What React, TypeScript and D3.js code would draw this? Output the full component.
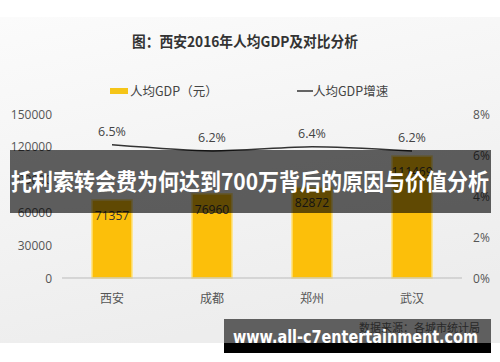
import React from "react";
import * as d3 from "d3";

const cities = ["西安", "成都", "郑州", "武汉"];
const gdpPerCapita = [71357, 76960, 82872, 111469];
const growth = [6.5, 6.2, 6.4, 6.2];
const leftTicks = [0, 30000, 60000, 90000, 120000, 150000];
const rightTicks = [0, 2, 4, 6, 8];

const W = 500;
const H = 362;
const FONT = "'Open Sans', 'Noto Sans CJK SC', sans-serif";
const CJK = "'Noto Sans CJK SC', sans-serif";

export default function App() {
  const x = d3.scaleBand<string>().domain(cities).range([62, 462]).paddingInner(0.6).paddingOuter(0.3);
  const yL = d3.scaleLinear().domain([0, 150000]).range([278, 114]);
  const yR = d3.scaleLinear().domain([0, 8]).range([278, 114]);
  const cx = (c: string) => (x(c) as number) + x.bandwidth() / 2;
  const line = d3
    .line<number>()
    .x((_, i) => cx(cities[i]))
    .y((d) => yR(d))
    .curve(d3.curveCardinal.tension(0.3));

  return (
    <svg width={W} height={H} style={{ position: "absolute", left: 0, top: 0 }} fontFamily={FONT}>
      <defs>
        <linearGradient id="bg" x1="0" y1="0" x2="0.3" y2="1">
          <stop offset="0" stopColor="#fbfbfb" />
          <stop offset="1" stopColor="#ededed" />
        </linearGradient>
      </defs>
      <rect x={0} y={0} width={W} height={H} fill="#ffffff" />
      <rect x={0} y={17} width={W} height={326} fill="url(#bg)" />

      <text x={245} y={47} textAnchor="middle" fontSize={14.5} fontWeight="bold" fill="#333" fontFamily={CJK} textLength={226} lengthAdjust="spacingAndGlyphs">
        图：西安2016年人均GDP及对比分析
      </text>

      {/* legend */}
      <rect x={110} y={88} width={18} height={6} fill="#F5C518" />
      <text x={130} y={95.5} fontSize={12.5} fill="#444" fontFamily={CJK}>人均GDP（元）</text>
      <line x1={297} x2={313} y1={91} y2={91} stroke="#333" strokeWidth={1.5} />
      <text x={313} y={95.5} fontSize={12.5} fill="#444" fontFamily={CJK}>人均GDP增速</text>

      {/* left axis */}
      {leftTicks.map((t) => (
        <text key={t} x={52} y={yL(t) + 4.5} textAnchor="end" fontSize={12} fill="#555">
          {t}
        </text>
      ))}
      {/* right axis */}
      {rightTicks.map((t) => (
        <text key={t} x={473} y={yR(t) + 4.5} fontSize={12} fill="#555">
          {t}%
        </text>
      ))}

      {/* bars */}
      {cities.map((c, i) => (
        <g key={c}>
          <rect
            x={x(c)}
            y={yL(gdpPerCapita[i])}
            width={x.bandwidth()}
            height={278 - yL(gdpPerCapita[i])}
            fill="#FCBF0A"
            stroke="#FFE27A"
            strokeWidth={1.5}
          />
          <text x={cx(c)} y={yL(gdpPerCapita[i]) + 20} textAnchor="middle" fontSize={12} fill="#333">
            {gdpPerCapita[i]}
          </text>
          <text x={cx(c)} y={303} textAnchor="middle" fontSize={12} fill="#555" fontFamily={CJK}>
            {c}
          </text>
        </g>
      ))}

      <line x1={62} x2={462} y1={278} y2={278} stroke="#bbb" strokeWidth={1} />

      {/* growth line */}
      <path d={line(growth) || ""} fill="none" stroke="#333" strokeWidth={1.5} />
      {cities.map((c, i) => (
        <text key={c} x={cx(c)} y={yR(growth[i]) - 9} textAnchor="middle" fontSize={12.5} fill="#444">
          {growth[i]}%
        </text>
      ))}

      <text x={480} y={332} textAnchor="end" fontSize={11} fill="#666" fontFamily={CJK}>
        数据来源：各城市统计局
      </text>

      {/* overlays */}
      <rect x={10} y={150} width={481} height={63} fill="rgba(0,0,0,0.62)" />
      <text x={250} y={190} textAnchor="middle" fontSize={23} fontWeight="bold" fill="#fff" fontFamily={CJK} textLength={478} lengthAdjust="spacingAndGlyphs">
        托利索转会费为何达到700万背后的原因与价值分析
      </text>

      <rect x={224} y={319} width={267} height={24} fill="rgba(0,0,0,0.6)" />
      <rect x={224} y={343} width={267} height={10} fill="#000" />
      <text x={233} y={343} fontSize={17} fontWeight="bold" fill="#fff" fontFamily="'DejaVu Sans', sans-serif" textLength={245} lengthAdjust="spacingAndGlyphs">
        www.all-c7entertainment.com
      </text>
    </svg>
  );
}
